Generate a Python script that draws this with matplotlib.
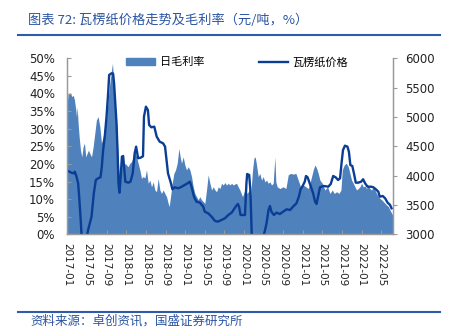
import matplotlib
matplotlib.use("Agg")
import matplotlib.pyplot as plt
from matplotlib.lines import Line2D
from matplotlib.patches import Patch
from matplotlib.ticker import FixedLocator, PercentFormatter

plt.rcParams["font.family"] = ["DejaVu Sans", "Noto Sans CJK SC"]
CJK = ["Noto Sans CJK SC", "DejaVu Sans"]

# months counted from 2017-01
tick_months = [0, 4, 8, 12, 16, 20, 24, 28, 32, 36, 40, 44, 48, 52, 56, 60, 64]
tick_labels = ["2017-01", "2017-05", "2017-09", "2018-01", "2018-05", "2018-09",
               "2019-01", "2019-05", "2019-09", "2020-01", "2020-05", "2020-09",
               "2021-01", "2021-05", "2021-09", "2022-01", "2022-05"]

# 瓦楞纸价格 (元/吨)
price_month = [0.0, 0.8, 1.3, 1.5, 1.84, 2.17, 2.38, 2.65, 2.9, 3.3, 3.9, 4.2, 4.9,
               5.37, 5.78, 6.25, 6.73, 7.0, 7.27, 7.6, 7.96, 8.29, 8.5, 9.0, 9.3,
               9.5, 9.7, 10.0, 10.2, 10.4, 10.6, 10.8, 11.1, 11.35, 11.6, 11.8,
               12.4, 12.85, 13.3, 13.7, 14.0, 14.4, 14.9, 15.4, 15.6, 16.0, 16.4,
               16.65, 17.1, 17.7, 18.2, 18.8, 19.5, 19.9, 20.2, 20.5, 21.1, 21.4,
               21.9, 22.6, 23.3, 23.9, 24.5, 24.96, 25.3, 25.8, 26.3, 27.0, 27.7,
               28.0, 28.7, 29.4, 30.1, 30.7, 31.4, 32.1, 32.8, 33.5, 34.3, 34.75,
               35.0, 35.3, 36.2, 36.5, 36.65, 37.06, 37.3, 37.6, 38.5, 39.9, 40.3,
               40.6, 41.0, 41.3, 41.6, 42.1, 42.65, 43.3, 44.0, 44.7, 45.4, 46.0,
               46.7, 47.2, 47.55, 47.96, 48.4, 48.65, 48.98, 49.3, 49.65, 50.1,
               50.5, 50.8, 51.1, 51.5, 52.2, 53.2, 53.7, 54.2, 54.7, 55.2, 55.6,
               55.9, 56.2, 56.6, 57.1, 57.4, 57.7, 58.1, 58.5, 58.8, 59.3, 59.9,
               60.3, 60.7, 61.2, 61.9, 62.4, 62.9, 63.4, 63.7, 64.3, 64.8, 65.3,
               65.8, 66.1]
price = [4084, 4050, 4040, 4067, 3982, 3870, 3641, 3300, 2950, 2800, 2950, 3073, 3300,
         3699, 3926, 3955, 3972, 4153, 4437, 4664, 5005, 5404, 5716, 5745, 5740,
         5575, 5290, 4893, 4437, 3870, 3710, 3926, 4323, 4335, 4096, 3897,
         3880, 3897, 4040, 4381, 4494, 4296, 4306, 4330, 5005, 5176, 5119,
         4864, 4824, 4835, 4664, 4579, 4551, 4494, 4267, 4040, 3870, 3767,
         3801, 3784, 3812, 3840, 3870, 3897, 3812, 3641, 3556, 3540, 3471,
         3385, 3358, 3300, 3227, 3216, 3244, 3272, 3329, 3370, 3471, 3517,
         3471, 3329, 3329, 3870, 4028, 4011, 3756, 2950, 2800, 2950, 3073,
         3187, 3414, 3482, 3385, 3329, 3369, 3346, 3385, 3426, 3414, 3471,
         3528, 3641, 3767, 3823, 3897, 3994, 3971, 3897, 3812, 3699,
         3556, 3517, 3641, 3801, 3824, 3812, 3858, 3994, 3971, 3926, 3955,
         4210, 4437, 4511, 4494, 4409, 4181, 4164, 4011, 3880, 3880, 3897,
         3938, 3870, 3812, 3812, 3801, 3767, 3727, 3641, 3653, 3613, 3539,
         3500, 3443]

# 日毛利率 (%)
margin_month = [0.0, 0.13, 0.6, 0.88, 1.15, 1.42, 1.7, 1.83, 1.97, 2.17, 2.38, 2.65,
                2.92, 3.19, 3.46, 3.73, 4.0, 4.28, 4.55, 4.9, 5.23, 5.57, 5.9, 6.25,
                6.6, 6.93, 7.27, 7.61, 7.96, 8.29, 8.63, 8.98, 9.18, 9.45, 9.71,
                10.0, 10.27, 10.53, 10.7, 10.94, 11.22, 11.49, 11.76, 12.04, 12.37,
                12.71, 13.06, 13.39, 13.73, 14.08, 14.41, 14.76, 15.1, 15.43, 15.78,
                16.12, 16.46, 16.8, 17.14, 17.48, 17.82, 18.16, 18.5, 18.84, 19.18,
                19.52, 19.86, 20.2, 20.54, 20.75, 21.02, 21.36, 21.7, 22.04, 22.38,
                22.72, 22.99, 23.26, 23.6, 23.94, 24.28, 24.62, 24.96, 25.3, 25.64,
                25.98, 26.32, 26.66, 27.0, 27.34, 27.68, 28.02, 28.36, 28.7, 29.05,
                29.39, 29.73, 30.07, 30.41, 30.75, 31.09, 31.43, 31.77, 32.11,
                32.45, 32.79, 33.13, 33.47, 33.81, 34.15, 34.48, 34.82, 35.16,
                35.7, 36.18, 36.66, 37.07, 37.34, 37.75, 38.02, 38.29, 38.56, 38.9,
                39.24, 39.58, 39.92, 40.26, 40.6, 40.94, 41.28, 41.62, 41.96, 42.3,
                42.5, 42.78, 43.32, 44.0, 44.55, 45.03, 45.5, 46.05, 46.59, 47.07,
                47.54, 48.09, 48.63, 49.11, 49.45, 49.79, 50.13, 50.47, 50.81,
                51.15, 51.49, 51.97, 52.51, 53.06, 53.53, 54.01, 54.42, 54.89,
                55.37, 55.78, 56.05, 56.46, 56.86, 57.27, 57.61, 57.95, 58.29,
                58.63, 58.97, 59.31, 59.65, 59.99, 60.33, 60.67, 61.01, 61.35,
                61.69, 62.03, 62.38, 62.71, 63.05, 63.4, 63.73, 64.08, 64.42,
                64.76, 65.1, 65.44, 65.78, 66.12, 66.32]
margin = [38.2, 40.0, 40.2, 39.1, 39.5, 38.2, 35.3, 33.4, 36.3, 31.5, 27.7, 23.9,
          22.0, 24.9, 25.9, 22.0, 23.0, 23.9, 23.0, 22.0, 24.9, 28.7, 32.5, 33.4,
          30.6, 25.9, 27.7, 30.6, 32.5, 38.2, 42.9, 46.7, 48.6, 41.9, 37.2,
          31.5, 23.9, 17.3, 14.0, 19.2, 21.1, 19.2, 20.2, 19.7, 19.2,
          20.2, 20.6, 22.0, 23.5, 22.0, 20.2, 18.3, 15.9, 16.4, 16.0,
          18.3, 14.5, 15.4, 13.5, 14.9, 12.6, 12.1, 15.9, 12.6, 11.6,
          12.6, 11.6, 10.7, 8.8, 7.9, 10.7, 14.5, 17.3, 18.3, 20.2,
          24.4, 22.0, 20.2, 22.0, 19.7, 18.3, 19.2, 18.3, 16.4, 13.5,
          11.6, 10.7, 9.8, 10.7, 9.8, 9.3, 8.8, 12.6, 16.9, 14.5,
          12.6, 13.5, 12.6, 12.1, 13.5, 13.0, 14.5, 14.0, 14.7,
          14.0, 14.5, 14.0, 14.5, 14.0, 14.3, 14.5, 13.5, 12.6,
          10.7, 12.6, 11.6, 12.6, 10.7, 18.3, 21.6, 22.0, 19.7, 16.4,
          17.3, 15.4, 16.4, 14.9, 15.4, 14.5, 14.9, 14.0, 14.5, 22.0,
          14.9, 13.5, 13.0, 13.5, 13.0, 16.9, 17.3, 17.1, 17.3, 15.4,
          13.5, 14.0, 13.5, 13.0, 14.5, 16.4, 18.3, 19.7, 18.8,
          17.3, 15.4, 14.5, 12.6, 13.5, 11.6, 12.6, 11.6, 12.1,
          11.6, 12.6, 18.3, 19.7, 20.2, 19.2, 17.3, 15.4, 14.5,
          13.5, 12.6, 13.0, 13.5, 14.5, 13.5, 13.7, 13.0, 14.0,
          13.0, 12.6, 13.5, 12.6, 11.6, 10.7, 10.2, 9.8, 9.3,
          8.8, 8.3, 7.9, 6.9, 6.0, 5.5]

AREA_COLOR = "#4F81BD"
LINE_COLOR = "#0A3D94"
BLUE_TEXT = "#2A55A2"
SPINE = "#9A9A9A"

fig = plt.figure(figsize=(4.56, 3.35), dpi=100)
ax = fig.add_axes([67.5 / 456, 1 - 234.3 / 335, 326 / 456, 176 / 335])
ax2 = ax.twinx()

ax.fill_between(margin_month, 0, margin, color=AREA_COLOR, lw=0)
ax2.plot(price_month, price, color=LINE_COLOR, lw=1.7)

ax.set_xlim(0, 66.5)
ax.set_ylim(0, 50)
ax2.set_ylim(3000, 6000)

ax.xaxis.set_major_locator(FixedLocator(tick_months))
ax.set_xticklabels(tick_labels, rotation=-90, fontsize=7.5)
ax.set_yticks(range(0, 51, 5))
ax.yaxis.set_major_formatter(PercentFormatter(decimals=0))
ax2.set_yticks(range(3000, 6001, 500))

ax.tick_params(axis="x", direction="in", length=3, color=SPINE, pad=6.5, labelcolor="#222222")
ax.tick_params(axis="y", direction="in", length=3, color=SPINE, pad=9, labelsize=8.5, labelcolor="#222222")
ax2.tick_params(axis="y", direction="out", length=3, color=SPINE, pad=5.5, labelsize=8.5, labelcolor="#222222")

for a in (ax, ax2):
    a.spines["top"].set_visible(False)
    for s in ("left", "right", "bottom"):
        a.spines[s].set_color(SPINE)
        a.spines[s].set_linewidth(0.9)

# legends
leg1 = ax2.legend([Patch(color=AREA_COLOR)], ["日毛利率"], loc="center left",
                  bbox_to_anchor=(0.1785, 0.977), frameon=False, borderpad=0,
                  borderaxespad=0, handlelength=2.6, handleheight=0.55,
                  handletextpad=0.5, prop={"family": CJK, "size": 8})
ax2.add_artist(leg1)
ax2.legend([Line2D([], [], color=LINE_COLOR, lw=1.7)], ["瓦楞纸价格"], loc="center left",
           bbox_to_anchor=(0.588, 0.977), frameon=False, borderpad=0,
           borderaxespad=0, handlelength=2.6, handletextpad=0.4,
           prop={"family": CJK, "size": 8})

# header and footer
fig.text(28 / 456, 1 - 20 / 335, "图表 72: 瓦楞纸价格走势及毛利率（元/吨，%）",
         family=CJK, fontsize=9.5, style="italic", color=BLUE_TEXT, va="center", ha="left")
fig.add_artist(Line2D([18 / 456, 440 / 456], [1 - 35 / 335, 1 - 35 / 335],
                      color="#2F5BA8", lw=1.5, transform=fig.transFigure))
fig.add_artist(Line2D([18 / 456, 440 / 456], [1 - 311.7 / 335, 1 - 311.7 / 335],
                      color="#2F5BA8", lw=1.5, transform=fig.transFigure))
fig.text(30 / 456, 1 - 321 / 335, "资料来源：卓创资讯，国盛证券研究所",
         family=CJK, fontsize=9, style="italic", color=BLUE_TEXT, va="center", ha="left")

fig.savefig("out.png", dpi=100)
